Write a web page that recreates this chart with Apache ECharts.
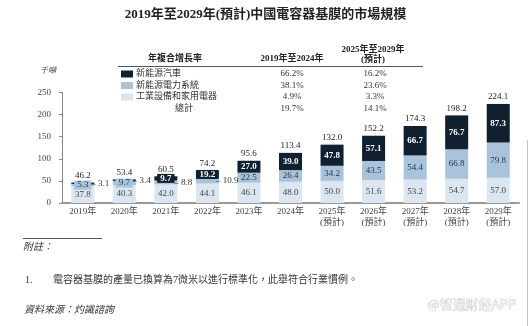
<!DOCTYPE html>
<html>
<head>
<meta charset="utf-8">
<script src="https://cdn.jsdelivr.net/npm/echarts@6/dist/echarts.min.js"></script>
<style>
html,body{margin:0;padding:0;background:#fff;}
#c{width:531px;height:326px;}
</style>
</head>
<body>
<div id="c"></div>
<script>
// ---- data ----
const categories = ['2019年','2020年','2021年','2022年','2023年','2024年',
  '2025年\n(預計)','2026年\n(預計)','2027年\n(預計)','2028年\n(預計)','2029年\n(預計)'];
const seriesNames = ['新能源汽車','新能源電力系統','工業設備和家用電器'];
const industrial = [37.8,40.3,42.0,44.1,46.1,48.0,50.0,51.6,53.2,54.7,57.0];
const power      = [5.3,9.7,8.8,10.9,22.5,26.4,34.2,43.5,54.4,66.8,79.8];
const nev        = [3.1,3.4,9.7,19.2,27.0,39.0,47.8,57.1,66.7,76.7,87.3];
const totals     = [46.2,53.4,60.5,74.2,95.6,113.4,132.0,152.2,174.3,198.2,224.1];
const outsidePower = [2,3];   // indices labelled outside the bar
const outsideNev   = [0,1];
const yMin = 0, yMax = 250, yInterval = 50;
const title = '2019年至2029年(預計)中國電容器基膜的市場規模';
const unit = '千噸';
const cagrTitle = '年複合增長率';
const cagrHead1 = '2019年至2024年';
const cagrHead2 = ['2025年至2029年','(預計)'];
const cagrRows = ['新能源汽車','新能源電力系統','工業設備和家用電器','總計'];
const cagr1 = ['66.2%','38.1%','4.9%','19.7%'];
const cagr2 = ['16.2%','23.6%','3.3%','14.1%'];
const noteTitle = '附註：';
const noteNum = '1.';
const noteText = '電容器基膜的產量已換算為7微米以進行標準化，此舉符合行業慣例。';
const source = '資料來源：灼識諮詢';
const watermark = '@智通财经APP';

// ---- styles ----
const C_DARK = '#10202f', C_MID = '#a9c3db', C_LIGHT = '#dce6f0';
const SERIF = "'Liberation Serif','DejaVu Serif','Noto Sans CJK TC',serif";
const CJK = "'Liberation Serif','Noto Sans CJK TC',serif";

function fmt(v){ return v.toFixed(1); }

function buildData(vals, outside){
  return vals.map((v,i)=>{
    if (outside.indexOf(i) >= 0) {
      return {value: v, label: {position: 'right', offset:[-8,0], color:'#333', fontWeight:'normal',
        backgroundColor:'transparent', padding:0, formatter: p => '– ' + fmt(p.value)}};
    }
    return v;
  });
}

const chart = echarts.init(document.getElementById('c'), null, {renderer:'canvas'});

const rowY = [74, 85.5, 97, 108.5];
const graphics = [
  {type:'text', left:'center', top:8, style:{text:title, font:"bold 13px "+CJK, fill:'#222'}},
  {type:'text', x:175, y:59, style:{text:cagrTitle, font:"bold 9px "+CJK, fill:'#222', textAlign:'center', textVerticalAlign:'middle'}},
  {type:'text', x:292, y:59, style:{text:cagrHead1, font:"bold 9px "+CJK, fill:'#222', textAlign:'center', textVerticalAlign:'middle'}},
  {type:'text', x:373, y:50, style:{text:cagrHead2[0], font:"bold 9px "+CJK, fill:'#222', textAlign:'center', textVerticalAlign:'middle'}},
  {type:'text', x:373, y:60, style:{text:cagrHead2[1], font:"bold 9px "+CJK, fill:'#222', textAlign:'center', textVerticalAlign:'middle'}},
  {type:'line', shape:{x1:118, y1:66.5, x2:423, y2:66.5}, style:{stroke:'#555', lineWidth:1}},
  {type:'text', x:184, y:rowY[3], style:{text:cagrRows[3], font:"9px "+CJK, fill:'#333', textAlign:'center', textVerticalAlign:'middle'}},
  {type:'text', x:48, y:71, style:{text:unit, font:"italic 8px "+CJK, fill:'#444', textAlign:'center', textVerticalAlign:'middle'}},
  {type:'line', shape:{x1:23, y1:238.5, x2:102, y2:238.5}, style:{stroke:'#555', lineWidth:1}},
  {type:'text', x:23, y:247, style:{text:noteTitle, font:"italic 10px "+CJK, fill:'#333', textVerticalAlign:'middle'}},
  {type:'text', x:25, y:280, style:{text:noteNum, font:"10px "+CJK, fill:'#333', textVerticalAlign:'middle'}},
  {type:'text', x:53, y:280, style:{text:noteText, font:"10px "+CJK, fill:'#333', textVerticalAlign:'middle'}},
  {type:'text', x:24, y:310, style:{text:source, font:"italic 10px "+CJK, fill:'#333', textVerticalAlign:'middle'}},
  {type:'text', x:516, y:304, style:{text:watermark, font:"13px 'Noto Sans CJK SC',sans-serif", fill:'#f2f2f2', stroke:'#bdbdbd', lineWidth:0.6, textAlign:'right', textVerticalAlign:'middle'}},
  {type:'line', shape:{x1:527.5, y1:140, x2:527.5, y2:326}, style:{stroke:'#c4c4c4', lineWidth:1}}
];
cagr1.forEach((t,i)=>graphics.push({type:'text', x:292, y:rowY[i], style:{text:t, font:"9px "+SERIF, fill:'#333', textAlign:'center', textVerticalAlign:'middle'}}));
cagr2.forEach((t,i)=>graphics.push({type:'text', x:375, y:rowY[i], style:{text:t, font:"9px "+SERIF, fill:'#333', textAlign:'center', textVerticalAlign:'middle'}}));

const legends = seriesNames.map((n,i)=>({
  data:[n], left:121, top: rowY[i]-5, padding:0, itemWidth:12, itemHeight:7, itemGap:0,
  icon:'rect', selectedMode:false,
  textStyle:{fontSize:9, fontFamily:CJK, color:'#333', lineHeight:10, padding:[0,0,0,-2]}
}));

const option = {
  animation:false,
  backgroundColor:'#fff',
  textStyle:{fontFamily:SERIF},
  graphic: graphics,
  legend: legends,
  grid:{left:62, right:12, top:92.5, bottom:123, containLabel:false},
  xAxis:{
    type:'category', data:categories,
    axisLine:{lineStyle:{color:'#999', width:2}},
    axisTick:{show:false},
    axisLabel:{color:'#444', fontSize:9, fontFamily:CJK, margin:3, lineHeight:11, interval:0}
  },
  yAxis:{
    type:'value', min:yMin, max:yMax, interval:yInterval,
    axisLine:{show:true, lineStyle:{color:'#888', width:1}},
    axisTick:{show:true, length:3, lineStyle:{color:'#888'}},
    splitLine:{show:false},
    axisLabel:{color:'#444', fontSize:9, fontFamily:SERIF, margin:11}
  },
  series:[
    {name:seriesNames[2], type:'bar', stack:'t', barWidth:23, data:industrial,
     itemStyle:{color:C_LIGHT},
     label:{show:true, position:'inside', color:'#444', fontSize:9, fontFamily:SERIF, formatter:p=>fmt(p.value)}},
    {name:seriesNames[1], type:'bar', stack:'t', barWidth:23, data:buildData(power, outsidePower),
     itemStyle:{color:C_MID},
     label:{show:true, position:'inside', color:'#26384a', fontSize:9, fontFamily:SERIF,
       backgroundColor:C_MID, padding:[0,3], formatter:p=>fmt(p.value)}},
    {name:seriesNames[0], type:'bar', stack:'t', barWidth:23, data:buildData(nev, outsideNev),
     itemStyle:{color:C_DARK},
     label:{show:true, position:'inside', color:'#fff', fontSize:9, fontFamily:SERIF, fontWeight:'bold',
       backgroundColor:C_DARK, padding:[0,3], formatter:p=>fmt(p.value)}},
    {name:'總計', type:'line', data:totals, symbol:'circle', symbolSize:1, showSymbol:true, silent:true,
     itemStyle:{color:'rgba(0,0,0,0)'}, lineStyle:{opacity:0}, z:5,
     label:{show:true, position:'top', distance:2, color:'#222', fontSize:9, fontFamily:SERIF, formatter:p=>fmt(p.value)}}
  ]
};
chart.setOption(option);
</script>
</body>
</html>
